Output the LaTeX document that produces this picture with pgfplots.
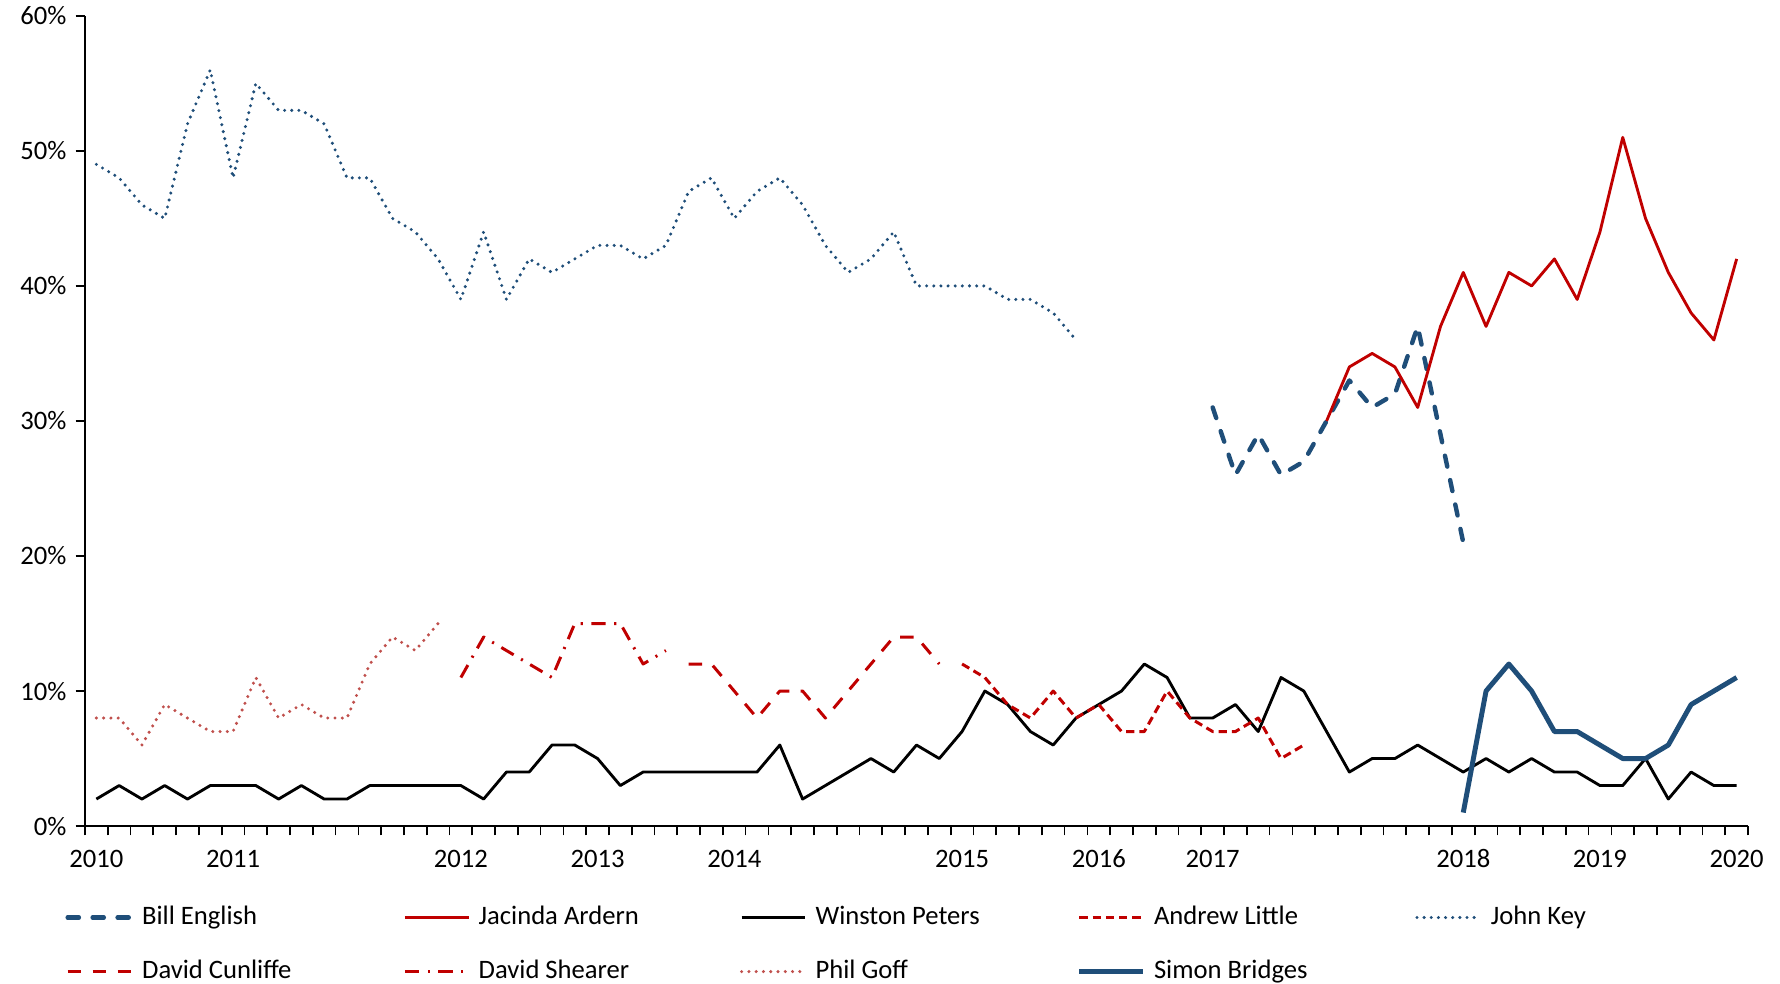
\documentclass[border=0pt]{standalone}
\usepackage{fontspec}
\setmainfont{Carlito}
\usepackage{pgfplots}
\pgfplotsset{compat=1.18}
\definecolor{nblue}{HTML}{1F4E79}
\definecolor{lred}{HTML}{C00000}
\definecolor{gofred}{HTML}{C0504D}
\newcommand\LE[1]{\makebox[97.25pt][l]{#1}}
\begin{document}
\begin{tikzpicture}
\begin{axis}[
  scale only axis, width=640pt, height=311.8pt,
  xmin=-0.5, xmax=72.5, ymin=0, ymax=60,
  axis lines=left, axis line style={-, line width=0.65pt, black},
  xtick={-0.5,0.5,...,72.5},
  xticklabels={2010,{},{},{},{},{},2011,{},{},{},{},{},{},{},{},{},2012,{},{},{},{},{},2013,{},{},{},{},{},2014,{},{},{},{},{},{},{},{},{},2015,{},{},{},{},{},2016,{},{},{},{},2017,{},{},{},{},{},{},{},{},{},{},2018,{},{},{},{},{},2019,{},{},{},{},{},2020,{}},
  xticklabel style={text height=6.6pt, text depth=0pt, yshift=-2.4pt, xshift=4.3836pt},
  ytick={0,10,20,30,40,50,60},
  yticklabels={0\%,10\%,20\%,30\%,40\%,50\%,60\%},
  tick align=outside, major tick length=3.6pt,
  tick style={black, line width=0.65pt},
  ticklabel style={font=\fontsize{10.25}{12}\selectfont},
  clip=false,
  legend columns=5,
  legend cell align=left,
  legend style={at={(0,0)}, anchor=north west, xshift=-7.7pt, yshift=-27.2pt,
    draw=none, fill=none, inner sep=0pt, row sep=5.2pt,
    nodes={inner sep=3.3pt, text height=7pt, text depth=2pt},
    /tikz/every odd column/.append style={column sep=0pt},
    font=\fontsize{10.25}{12}\selectfont},
  legend image code/.code={\draw[#1] (0pt,0pt) -- (24.5pt,0pt);},
  every axis plot/.append style={line join=round},
]
% Bill English
\addplot[nblue, line width=1.7pt, line cap=round, dash pattern=on 4.3pt off 5.3pt] coordinates {
(49,31)(50,26)(51,29)(52,26)(53,27)(54,30)(55,33)(56,31)(57,32)(58,37)(59,29)(60,21)};
\addlegendentry{\LE{Bill English}}
% Jacinda Ardern
\addplot[lred, line width=1.1pt] coordinates {
(54,30)(55,34)(56,35)(57,34)(58,31)(59,37)(60,41)(61,37)(62,41)(63,40)(64,42)(65,39)(66,44)(67,51)(68,45)(69,41)(70,38)(71,36)(72,42)};
\addlegendentry{\LE{Jacinda Ardern}}
% Winston Peters
\addplot[black, line width=1.1pt] coordinates {
(0,2)(1,3)(2,2)(3,3)(4,2)(5,3)(6,3)(7,3)(8,2)(9,3)(10,2)(11,2)(12,3)(13,3)(14,3)(15,3)(16,3)(17,2)(18,4)(19,4)(20,6)(21,6)(22,5)(23,3)(24,4)(25,4)(26,4)(27,4)(28,4)(29,4)(30,6)(31,2)(32,3)(33,4)(34,5)(35,4)(36,6)(37,5)(38,7)(39,10)(40,9)(41,7)(42,6)(43,8)(44,9)(45,10)(46,12)(47,11)(48,8)(49,8)(50,9)(51,7)(52,11)(53,10)(54,7)(55,4)(56,5)(57,5)(58,6)(59,5)(60,4)(61,5)(62,4)(63,5)(64,4)(65,4)(66,3)(67,3)(68,5)(69,2)(70,4)(71,3)(72,3)};
\addlegendentry{\LE{Winston Peters}}
% Andrew Little
\addplot[lred, line width=1.15pt, dash pattern=on 3.2pt off 1.9pt] coordinates {
(38,12)(39,11)(40,9)(41,8)(42,10)(43,8)(44,9)(45,7)(46,7)(47,10)(48,8)(49,7)(50,7)(51,8)(52,5)(53,6)};
\addlegendentry{\LE{Andrew Little}}
% John Key
\addplot[nblue, line width=1.3pt, line cap=round, dash pattern=on 0pt off 2.75pt] coordinates {
(0,49)(1,48)(2,46)(3,45)(4,52)(5,56)(6,48)(7,55)(8,53)(9,53)(10,52)(11,48)(12,48)(13,45)(14,44)(15,42)(16,39)(17,44)(18,39)(19,42)(20,41)(21,42)(22,43)(23,43)(24,42)(25,43)(26,47)(27,48)(28,45)(29,47)(30,48)(31,46)(32,43)(33,41)(34,42)(35,44)(36,40)(37,40)(38,40)(39,40)(40,39)(41,39)(42,38)(43,36)};
\addlegendentry{\LE{John Key}}
% David Cunliffe
\addplot[lred, line width=1.15pt, dash pattern=on 5.2pt off 4.4pt] coordinates {
(26,12)(27,12)(28,10)(29,8)(30,10)(31,10)(32,8)(33,10)(34,12)(35,14)(36,14)(37,12)};
\addlegendentry{\LE{David Cunliffe}}
% David Shearer
\addplot[lred, line width=1.15pt, dash pattern=on 5.5pt off 3.3pt on 0.8pt off 3.3pt] coordinates {
(16,11)(17,14)(18,13)(19,12)(20,11)(21,15)(22,15)(23,15)(24,12)(25,13)};
\addlegendentry{\LE{David Shearer}}
% Phil Goff
\addplot[gofred, line width=1.3pt, line cap=round, dash pattern=on 0pt off 2.8pt] coordinates {
(0,8)(1,8)(2,6)(3,9)(4,8)(5,7)(6,7)(7,11)(8,8)(9,9)(10,8)(11,8)(12,12)(13,14)(14,13)(15,15)};
\addlegendentry{\LE{Phil Goff}}
% Simon Bridges
\addplot[nblue, line width=1.9pt] coordinates {
(60,1)(61,10)(62,12)(63,10)(64,7)(65,7)(66,6)(67,5)(68,5)(69,6)(70,9)(71,10)(72,11)};
\addlegendentry{\LE{Simon Bridges}}
\coordinate (SW) at (rel axis cs:0,0);
\coordinate (NE) at (rel axis cs:1,1);
\end{axis}
% category boundary tick marks along the x axis (73 categories over 640pt)
\foreach \k in {0,...,73} {
  \draw[black, line width=0.65pt] ([xshift=\k*8.76712pt]SW) -- ++(0pt,-2.8pt);
}
\pgfresetboundingbox
\path[use as bounding box] ([xshift=-32.7pt,yshift=-60.6pt]SW) rectangle ([xshift=12.3pt,yshift=6.1pt]NE);
\end{tikzpicture}
\end{document}
